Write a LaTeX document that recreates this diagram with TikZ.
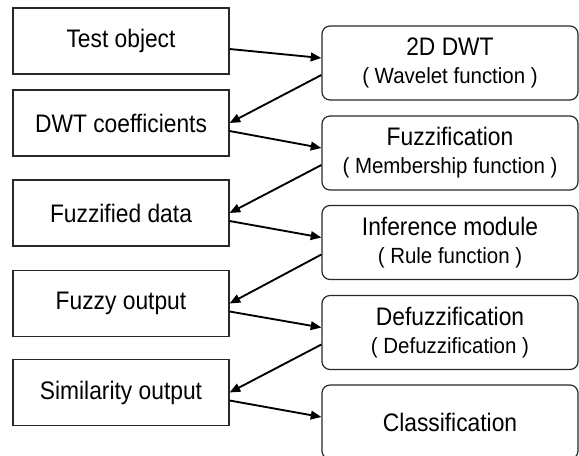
\documentclass[tikz,border=0pt]{standalone}
\usepackage{fontspec}
\setmainfont{Liberation Sans}
\newfontfamily\boxfont[FakeStretch=0.9]{Liberation Sans}
\newfontfamily\subfont[FakeStretch=0.93]{Liberation Sans}
\usetikzlibrary{arrows.meta}

\newcommand{\subtxt}[1]{{\subfont\fontsize{16.5pt}{21pt}\selectfont #1}}

\tikzset{
  leftbox/.style={draw={rgb, 255:red, 40; green, 40; blue, 40}, line width=0.9pt, minimum width=162pt, minimum height=49.5pt, inner sep=0.75pt, font=\boxfont\fontsize{19pt}{21pt}\selectfont},
  rightbox/.style={draw={rgb, 255:red, 40; green, 40; blue, 40}, line width=0.9pt, rounded corners=6pt, minimum width=192pt, minimum height=55.5pt, inner sep=0.75pt, align=center, font=\boxfont\fontsize{19pt}{21pt}\selectfont},
  arr/.style={line width=1.4pt, -{Triangle[length=8pt,width=6.5pt]}},
}

\begin{document}
\begin{tikzpicture}[x=0.75pt,y=0.75pt,yscale=-1,xscale=1]
\useasboundingbox (0,0) rectangle (579,455);

%Shape: Rectangle [left column]
\node [leftbox] (testobj) at (121,41) {Test object};
\node [leftbox] (coeffs) at (121,123) {DWT coefficients};
\node [leftbox] (fuzdata) at (121,213) {Fuzzified data};
\node [leftbox] (fuzout) at (121,303.5) {Fuzzy output};
\node [leftbox] (simout) at (121,392.5) {Similarity output};

%Shape: Rounded Rect [right column]
\node [rightbox] (dwt) at (450,63) {2D DWT\\\subtxt{( Wavelet function )}};
\node [rightbox] (fuzzif) at (450,153) {Fuzzification\\\subtxt{( Membership function )}};
\node [rightbox] (infer) at (450,242.5) {Inference module\\\subtxt{( Rule function )}};
\node [rightbox] (defuz) at (450,332.5) {Defuzzification\\\subtxt{( Defuzzification )}};
\node [rightbox] (classif) at (450,422) {Classification};

%Straight Lines
\draw [arr] ([yshift=6pt]testobj.east) -- ([yshift=-3.75pt]dwt.west) ;
\draw [arr] ([yshift=9pt]dwt.west) -- (coeffs.east) ;
\draw [arr] ([yshift=6pt]coeffs.east) -- ([yshift=-3.75pt]fuzzif.west) ;
\draw [arr] ([yshift=9pt]fuzzif.west) -- (fuzdata.east) ;
\draw [arr] ([yshift=6pt]fuzdata.east) -- ([yshift=-3.75pt]infer.west) ;
\draw [arr] ([yshift=9pt]infer.west) -- (fuzout.east) ;
\draw [arr] ([yshift=6pt]fuzout.east) -- ([yshift=-3.75pt]defuz.west) ;
\draw [arr] ([yshift=9pt]defuz.west) -- (simout.east) ;
\draw [arr] ([yshift=6pt]simout.east) -- ([yshift=-3.75pt]classif.west) ;

\end{tikzpicture}
\end{document}
